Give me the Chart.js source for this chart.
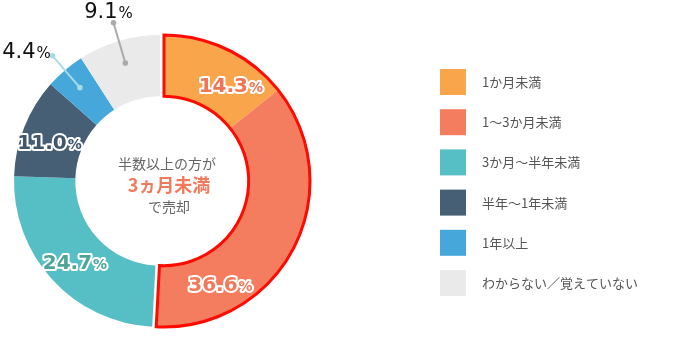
<!DOCTYPE html>
<html>
<head>
<meta charset="utf-8">
<script src="https://cdn.jsdelivr.net/npm/chart.js@4.4.1/dist/chart.umd.min.js"></script>
<style>
  html, body { margin: 0; padding: 0; background: #fff; }
  #wrap { width: 680px; height: 340px; }
</style>
</head>
<body>
<div id="wrap"><canvas id="sellChart"></canvas></div>
<script>
// chart data
const periods = ["1か月未満", "1～3か月未満", "3か月～半年未満", "半年～1年未満", "1年以上", "わからない／覚えていない"];
const shares = [14.3, 36.6, 24.7, 11.0, 4.4, 9.1];
const sliceColors = ["#F9A54C", "#F47C5F", "#56BFC6", "#465F75", "#45A7DA", "#EAEAEA"];
const centerLines = ["半数以上の方が", "3ヵ月未満", "で売却"];

// how many slices from the start are grouped under "3ヵ月未満"
const highlightCount = 2;
const highlightShift = 4;

// inner label text colors (white outline on top)
const labelFill = ["#F27455", "#F27A5C", "#4FA49A", "#3F566B"];
// small nudges so the labels sit like the original (degrees)
const labelAngleNudge = [9, 34, -1, -2];
const leaderColors = { 4: "#A6DCE4", 5: "#AAAAAA" };

const JP = '"Noto Sans CJK JP", "Noto Sans", sans-serif';
const NUM = '"DejaVu Sans", sans-serif';

// move the highlighted slices a bit to the right
const shiftPlugin = {
  id: "shift",
  afterUpdate(chart) {
    const meta = chart.getDatasetMeta(0);
    for (let i = 0; i < highlightCount; i++) meta.data[i].x += highlightShift;
  }
};

function drawPct(ctx, value, x, y, big, small, fill, stroke, weight) {
  const num = value.toFixed(1);
  ctx.font = `${weight} ${big}px ${NUM}`;
  const w1 = ctx.measureText(num).width;
  ctx.font = `${weight} ${small}px ${NUM}`;
  const w2 = ctx.measureText("%").width;
  const left = x - (w1 + w2 + 1) / 2;
  ctx.textBaseline = "alphabetic";
  ctx.textAlign = "left";
  const base = y + big * 0.36;
  [[num, big, left], ["%", small, left + w1 + 1]].forEach(([t, size, tx]) => {
    ctx.font = `${weight} ${size}px ${NUM}`;
    if (stroke) {
      ctx.lineWidth = 4;
      ctx.lineJoin = "round";
      ctx.strokeStyle = stroke;
      ctx.strokeText(t, tx, base);
    }
    ctx.fillStyle = fill;
    ctx.fillText(t, tx, base);
  });
}

const overlayPlugin = {
  id: "overlay",
  afterDatasetsDraw(chart) {
    const ctx = chart.ctx;
    const meta = chart.getDatasetMeta(0);
    const first = meta.data[0];
    const last = meta.data[highlightCount - 1];

    // red outline around the highlighted group
    ctx.save();
    ctx.beginPath();
    ctx.arc(first.x, first.y, first.outerRadius, first.startAngle, last.endAngle);
    ctx.arc(first.x, first.y, first.innerRadius, last.endAngle, first.startAngle, true);
    ctx.closePath();
    ctx.lineWidth = 3;
    ctx.strokeStyle = "#FF0A00";
    ctx.lineJoin = "miter";
    ctx.stroke();
    ctx.restore();

    // labels
    meta.data.forEach((arc, i) => {
      const mid = (arc.startAngle + arc.endAngle) / 2;
      ctx.save();
      if (i < labelFill.length) {
        const a = mid + labelAngleNudge[i] * Math.PI / 180;
        const r = (arc.innerRadius + arc.outerRadius) / 2 + 2;
        drawPct(ctx, shares[i], arc.x + Math.cos(a) * r, arc.y + Math.sin(a) * r, 20, 14, labelFill[i], "#FFFFFF", "bold");
      } else {
        const x1 = arc.x + Math.cos(mid) * 123, y1 = arc.y + Math.sin(mid) * 123;
        const x2 = arc.x + Math.cos(mid) * 165, y2 = arc.y + Math.sin(mid) * 165;
        ctx.strokeStyle = leaderColors[i];
        ctx.fillStyle = leaderColors[i];
        ctx.lineWidth = 2;
        ctx.beginPath();
        ctx.moveTo(x1, y1);
        ctx.lineTo(x2, y2);
        ctx.stroke();
        [[x1, y1], [x2, y2]].forEach(([px, py]) => {
          ctx.beginPath();
          ctx.arc(px, py, 2.8, 0, Math.PI * 2);
          ctx.fill();
        });
        if (i === 4) drawPct(ctx, shares[i], x2 - 26, y2 - 5, 21, 15, "#111111", null, "normal");
        else drawPct(ctx, shares[i], x2 - 5, y2 - 12, 21, 15, "#111111", null, "normal");
      }
      ctx.restore();
    });

    // center text
    const cx = first.x, cy = first.y;
    ctx.save();
    ctx.textAlign = "center";
    ctx.textBaseline = "middle";
    ctx.fillStyle = "#666666";
    ctx.font = `14px ${JP}`;
    ctx.fillText(centerLines[0], cx + 3, cy - 17);
    ctx.fillStyle = "#F27A5C";
    ctx.font = `bold 18px ${JP}`;
    ctx.fillText(centerLines[1], cx + 5, cy + 4);
    ctx.fillStyle = "#666666";
    ctx.font = `14px ${JP}`;
    ctx.fillText(centerLines[2], cx + 5, cy + 26);
    ctx.restore();

    // legend on the right
    ctx.save();
    ctx.textAlign = "left";
    ctx.textBaseline = "middle";
    ctx.font = `13px ${JP}`;
    chart.data.labels.forEach((lab, i) => {
      const y = 82 + i * 40.2;
      ctx.fillStyle = sliceColors[i];
      ctx.fillRect(440, y - 13, 26, 26);
      ctx.fillStyle = "#555555";
      ctx.fillText(lab, 482, y);
    });
    ctx.restore();
  }
};

new Chart(document.getElementById("sellChart"), {
  type: "doughnut",
  data: {
    labels: periods,
    datasets: [{
      data: shares,
      backgroundColor: sliceColors,
      borderWidth: 0
    }]
  },
  options: {
    responsive: true,
    maintainAspectRatio: false,
    animation: false,
    events: [],
    cutout: "58%",
    layout: { padding: { left: 14, top: 35, right: 374, bottom: 13 } },
    plugins: {
      legend: { display: false },
      tooltip: { enabled: false }
    }
  },
  plugins: [shiftPlugin, overlayPlugin]
});
</script>
</body>
</html>
